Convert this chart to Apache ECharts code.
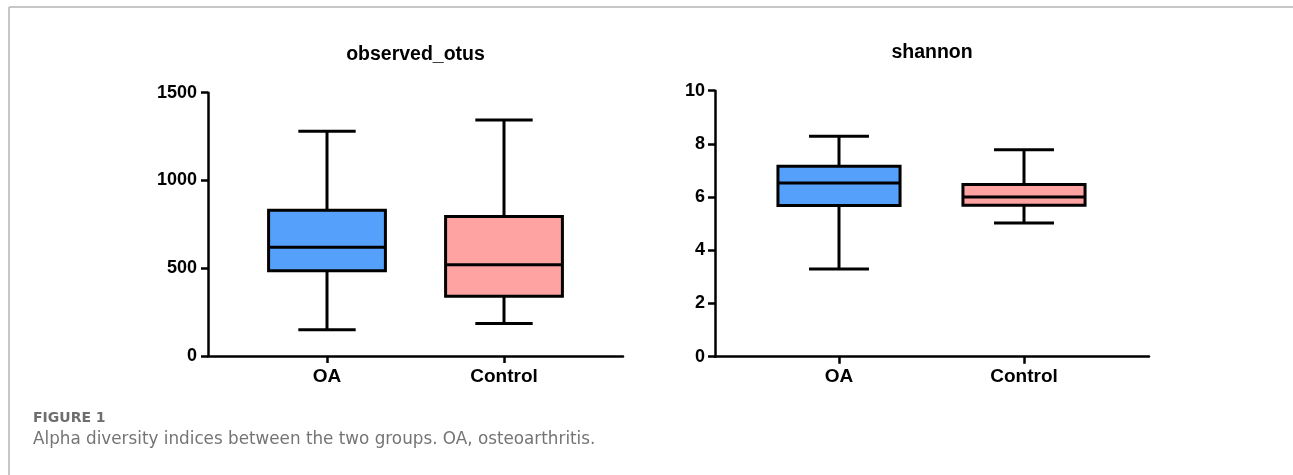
<!DOCTYPE html>
<html>
<head>
<meta charset="utf-8">
<script src="https://cdn.jsdelivr.net/npm/echarts@6/dist/echarts.min.js"></script>
<style>
  html, body { margin: 0; padding: 0; background: #fff; }
  #chart { width: 1293px; height: 475px; }
</style>
</head>
<body>
<div id="chart"></div>
<script>
// Groups compared in both panels
const groups = ['OA', 'Control'];
// Five-number summaries per group: [min, Q1, median, Q3, max]
const observedOtus = [
  [150, 485, 620, 830, 1280],
  [185, 340, 520, 795, 1345]
];
const shannon = [
  [3.30, 5.68, 6.53, 7.16, 8.29],
  [5.03, 5.69, 6.00, 6.47, 7.78]
];
// Value-axis ranges and tick steps
const otusAxis = { min: 0, max: 1500, interval: 500 };
const shannonAxis = { min: 0, max: 10, interval: 2 };
const groupColors = ['#55a0fb', '#fea2a2'];

const AXIS_FONT = '"Liberation Sans", Arial, sans-serif';
const CAPTION_FONT = '"DejaVu Sans", "Open Sans", sans-serif';

function toSeriesData(stats) {
  return stats.map((s, i) => [i].concat(s));
}

// Box with median line, whiskers and short caps, placed through the axes' own scales
function renderBox(params, api) {
  const idx = api.value(0);
  const band = api.size([1, 0])[0];
  const boxHalf = band * 0.33;
  const capHalf = band * 0.162;
  const p = [1, 2, 3, 4, 5].map(d => api.coord([idx, api.value(d)]));
  const cx = p[0][0];
  const stroke = { stroke: '#000', lineWidth: 3 };
  return {
    type: 'group',
    children: [
      { type: 'line', shape: { x1: cx, y1: p[0][1], x2: cx, y2: p[1][1] }, style: stroke },
      { type: 'line', shape: { x1: cx, y1: p[3][1], x2: cx, y2: p[4][1] }, style: stroke },
      { type: 'line', shape: { x1: cx - capHalf, y1: p[0][1], x2: cx + capHalf, y2: p[0][1] }, style: stroke },
      { type: 'line', shape: { x1: cx - capHalf, y1: p[4][1], x2: cx + capHalf, y2: p[4][1] }, style: stroke },
      {
        type: 'rect',
        shape: { x: cx - boxHalf, y: p[3][1], width: boxHalf * 2, height: p[1][1] - p[3][1] },
        style: { fill: groupColors[idx], stroke: '#000', lineWidth: 3 }
      },
      { type: 'line', shape: { x1: cx - boxHalf, y1: p[2][1], x2: cx + boxHalf, y2: p[2][1] }, style: stroke }
    ]
  };
}

const axisLineStyle = { color: '#000', width: 2.5 };
const labelStyle = { color: '#000', fontFamily: AXIS_FONT, fontWeight: 'bold' };

function categoryAxis(gridIndex) {
  return {
    type: 'category', gridIndex, data: groups,
    axisLine: { show: false },
    axisTick: { show: true, alignWithLabel: true, length: 7, lineStyle: axisLineStyle },
    axisLabel: Object.assign({ margin: 11, fontSize: 19 }, labelStyle),
    splitLine: { show: false }
  };
}
function baselineAxis(gridIndex) {
  return {
    type: 'value', gridIndex, min: 0, max: 1,
    axisLine: { show: true, lineStyle: axisLineStyle },
    axisTick: { show: false }, axisLabel: { show: false }, splitLine: { show: false }
  };
}
function valueAxis(gridIndex, range, offset, margin) {
  return {
    type: 'value', gridIndex, min: range.min, max: range.max, interval: range.interval,
    offset,
    axisLine: { show: true, lineStyle: axisLineStyle },
    axisTick: { show: true, length: 7, lineStyle: axisLineStyle },
    axisLabel: Object.assign({ margin, fontSize: 18, formatter: v => String(v) }, labelStyle),
    splitLine: { show: false }
  };
}

const chart = echarts.init(document.getElementById('chart'), null, { renderer: 'canvas' });
chart.setOption({
  animation: false,
  backgroundColor: '#fff',
  grid: [
    { left: 238.5, top: 92.7, width: 354, height: 263.3 },
    { left: 208, top: 92.7, width: 415, height: 263.3 },
    { left: 746.5, top: 90.7, width: 370, height: 266 },
    { left: 715, top: 90.7, width: 434, height: 266 }
  ],
  xAxis: [categoryAxis(0), baselineAxis(1), categoryAxis(2), baselineAxis(3)],
  yAxis: [
    valueAxis(0, otusAxis, 30.5, 11),
    { type: 'value', gridIndex: 1, show: false },
    valueAxis(2, shannonAxis, 31.5, 10),
    { type: 'value', gridIndex: 3, show: false }
  ],
  series: [
    {
      type: 'custom', name: 'observed_otus', xAxisIndex: 0, yAxisIndex: 0,
      renderItem: renderBox, encode: { x: 0, y: [1, 2, 3, 4, 5] },
      data: toSeriesData(observedOtus), z: 3
    },
    {
      type: 'custom', name: 'shannon', xAxisIndex: 2, yAxisIndex: 2,
      renderItem: renderBox, encode: { x: 0, y: [1, 2, 3, 4, 5] },
      data: toSeriesData(shannon), z: 3
    }
  ],
  graphic: [
    // page frame
    { type: 'line', shape: { x1: 9, y1: 7, x2: 1293, y2: 7 }, style: { stroke: '#b4b4b4', lineWidth: 1.5 }, silent: true },
    { type: 'line', shape: { x1: 9, y1: 7, x2: 9, y2: 475 }, style: { stroke: '#b4b4b4', lineWidth: 1.5 }, silent: true },
    // panel titles
    {
      type: 'text', x: 415.5, y: 55,
      style: { text: 'observed_otus', fill: '#000', font: 'bold 19.5px ' + AXIS_FONT, textAlign: 'center', textVerticalAlign: 'middle' }
    },
    {
      type: 'text', x: 932, y: 52.5,
      style: { text: 'shannon', fill: '#000', font: 'bold 19.5px ' + AXIS_FONT, textAlign: 'center', textVerticalAlign: 'middle' }
    },
    // figure caption
    {
      type: 'text', x: 33, y: 418.5,
      style: { text: 'FIGURE 1', fill: '#6e6e6e', font: 'bold 14px ' + CAPTION_FONT, textAlign: 'left', textVerticalAlign: 'middle' }
    },
    {
      type: 'text', x: 33, y: 440,
      style: { text: 'Alpha diversity indices between the two groups. OA, osteoarthritis.', fill: '#747474', font: '16.8px ' + CAPTION_FONT, textAlign: 'left', textVerticalAlign: 'middle' }
    }
  ]
});
</script>
</body>
</html>
